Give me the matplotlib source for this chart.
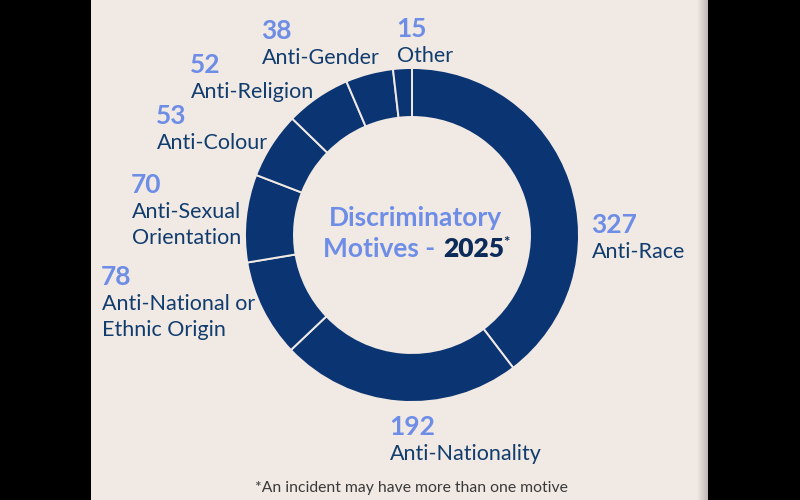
import numpy as np
import matplotlib.pyplot as plt
from matplotlib.patches import Rectangle
from matplotlib.colors import LinearSegmentedColormap

motives = ["Anti-Race", "Anti-Nationality", "Anti-National or\nEthnic Origin",
           "Anti-Sexual\nOrientation", "Anti-Colour", "Anti-Religion",
           "Anti-Gender", "Other"]
counts = [327, 192, 78, 70, 53, 52, 38, 15]
year = "2025"
footnote = "*An incident may have more than one motive"

# label anchors in pixel coords (x left, baseline of the number, from top)
label_pos = [(592, 233), (390, 435), (102, 285), (132, 193),
             (157, 124), (191, 73), (262, 39), (397, 37)]

bg = "#f1e9e4"
navy = "#0a3572"
light = "#6d8de6"
text_navy = "#113c6e"

plt.rcParams['font.family'] = ['Lato', 'DejaVu Sans']

fig = plt.figure(figsize=(8, 5), dpi=100)
fig.patch.set_facecolor("black")
ax = fig.add_axes([0, 0, 1, 1])
ax.set_xlim(0, 800)
ax.set_ylim(0, 500)
ax.axis("off")

H = 500
ax.add_patch(Rectangle((91, 0), 617, 500, facecolor=bg, edgecolor="none", zorder=0))
# soft shadow on right edge of the panel
grad = np.linspace(0, 1, 50).reshape(1, -1)
ax.imshow(grad, extent=(697, 708, 0, 500),
          cmap=LinearSegmentedColormap.from_list("sh", [bg, "#bdb8b5"]),
          aspect="auto", zorder=1)

ax.pie(counts, startangle=90, counterclock=False, center=(412, H - 235), radius=167,
       colors=[navy] * len(counts),
       wedgeprops=dict(width=49, edgecolor=bg, linewidth=1.4))
ax.set_xlim(0, 800)
ax.set_ylim(0, 500)
ax.set_aspect("auto")

for name, n, (x, y) in zip(motives, counts, label_pos):
    ax.text(x - 1, H - y, str(n), color=light, fontsize=19, fontweight="bold",
            ha="left", va="baseline")
    for i, line in enumerate(name.split("\n")):
        ax.text(x, H - (y + 25 + i * 26), line, color=text_navy, fontsize=15.5,
                ha="left", va="baseline")

ax.text(415, H - 226, "Discriminatory", color=light, fontsize=19, fontweight="bold",
        ha="center", va="baseline")
ax.text(435, H - 257, "Motives -", color=light, fontsize=19, fontweight="bold",
        ha="right", va="baseline")
ax.text(443, H - 257, year, color="#0c2b58", fontsize=19, fontweight="heavy",
        ha="left", va="baseline")
ax.text(503, H - 247, "*", color="#0c2b58", fontsize=11, fontweight="bold",
        ha="left", va="baseline")

ax.text(411, H - 492, footnote, color="#3a3a3a", fontsize=11.3, ha="center", va="baseline")

fig.savefig("out.png", dpi=100, facecolor=fig.get_facecolor())
